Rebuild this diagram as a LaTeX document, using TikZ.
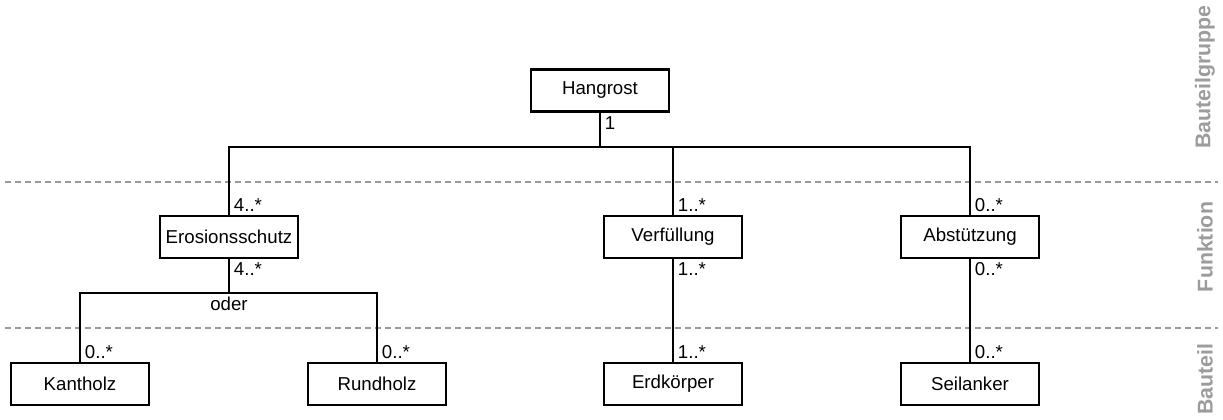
\documentclass[tikz,border=0pt]{standalone}
\usepackage{fontspec}
\setmainfont{Liberation Sans}
\usepackage{tikz}
\definecolor{line}{HTML}{000000}
\definecolor{sepgray}{HTML}{9A9A9A}
\definecolor{laygray}{HTML}{9C9C9C}
\tikzset{
  box/.style={draw=line, line width=1.6pt, fill=white, minimum width=104pt, minimum height=31.5pt, inner sep=0pt, font=\fontsize{14}{16}\selectfont},
  conn/.style={draw=line, line width=1.6pt},
  mult/.style={inner xsep=3.5pt, inner ysep=2.5pt, font=\fontsize{14}{16}\selectfont},
  sep/.style={draw=sepgray, line width=1.4pt, dash pattern=on 4.5pt off 3pt},
  layer/.style={text=laygray, rotate=90, font=\fontsize{16}{18}\selectfont\bfseries}
}
\begin{document}
\begin{tikzpicture}[x=0.75pt, y=-0.75pt]
  \useasboundingbox (0,0) rectangle (1223,420);

  % layer separators
  \draw[sep] (5,182) -- (1218,182);
  \draw[sep] (5,328) -- (1218,328);

  \node[layer] (lg) at (1205,77) {Bauteilgruppe};
  \node[layer] (lf) at (1205,247) {Funktion};
  \node[layer] (lb) at (1205,379) {Bauteil};

  % boxes
  \node[box] (hang) at (600,90.5) {Hangrost};
  \node[box] (ero) at (229,237) {Erosionsschutz};
  \node[box] (verf) at (673,237) {Verfüllung};
  \node[box] (abst) at (970,237) {Abstützung};
  \node[box] (kant) at (80,384) {Kantholz};
  \node[box] (rund) at (377,384) {Rundholz};
  \node[box] (erd) at (673,384) {Erdkörper};
  \node[box] (seil) at (970,384) {Seilanker};

  \coordinate (bartop) at (600,147);
  \coordinate (barodr) at (229,293);

  % connectors
  \draw[conn] (hang.south) -- (bartop);
  \draw[conn] (ero.north) |- (bartop);
  \draw[conn] (verf.north) |- (bartop);
  \draw[conn] (abst.north) |- (bartop);
  \draw[conn] (ero.south) -- (barodr);
  \draw[conn] (kant.north) |- (barodr);
  \draw[conn] (rund.north) |- (barodr);
  \draw[conn] (verf.south) -- (erd.north);
  \draw[conn] (abst.south) -- (seil.north);

  % multiplicities
  \node[mult, anchor=north west] (m1) at (hang.south) {1};
  \node[mult, anchor=south west] (m2) at (ero.north) {4..*};
  \node[mult, anchor=south west] (m3) at (verf.north) {1..*};
  \node[mult, anchor=south west] (m4) at (abst.north) {0..*};
  \node[mult, anchor=north west] (m5) at (ero.south) {4..*};
  \node[mult, anchor=north west] (m6) at (verf.south) {1..*};
  \node[mult, anchor=north west] (m7) at (abst.south) {0..*};
  \node[mult, anchor=south west] (m8) at (kant.north) {0..*};
  \node[mult, anchor=south west] (m9) at (rund.north) {0..*};
  \node[mult, anchor=south west] (m10) at (erd.north) {1..*};
  \node[mult, anchor=south west] (m11) at (seil.north) {0..*};
  \node[mult, anchor=north] (oder) at (barodr) {oder};
\end{tikzpicture}
\end{document}
